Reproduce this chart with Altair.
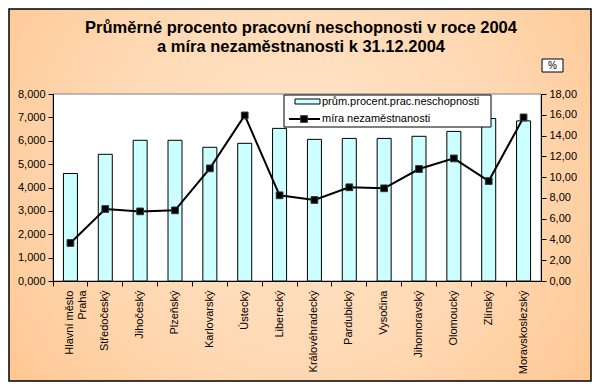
import altair as alt
import pandas as pd

# ---- data ----
regions = ["Hlavní město Praha", "Středočeský", "Jihočeský", "Plzeňský", "Karlovarský",
           "Ústecký", "Liberecký", "Královéhradecký", "Pardubický", "Vysočina",
           "Jihomoravský", "Olomoucký", "Zlínský", "Moravskoslezský"]
sick_leave = [4.60, 5.42, 6.02, 6.02, 5.72, 5.89, 6.53, 6.06, 6.10, 6.10, 6.19, 6.40, 6.95, 6.85]
unemployment = [3.66, 6.93, 6.70, 6.80, 10.84, 15.94, 8.25, 7.80, 9.02, 8.92, 10.78, 11.80, 9.62, 15.75]
title_lines = ["Průměrné procento pracovní neschopnosti v roce 2004",
               "a míra nezaměstnanosti k 31.12.2004"]
legend_labels = ["prům.procent.prac.neschopnosti", "míra nezaměstnanosti"]
left_ticks = [0, 1, 2, 3, 4, 5, 6, 7, 8]
right_ticks = [0, 2, 4, 6, 8, 10, 12, 14, 16, 18]
unit_label = "%"

# ---- layout ----
W, H = 488, 187
PL, PT, PR, PB = 45, 86, 51, 101
FONT = "Liberation Sans"

df = pd.DataFrame({"kraj": regions, "pn": sick_leave, "nez": unemployment})
one = alt.Data(values=[{"a": 1}])

grad = {"gradient": "radial", "x1": 0.5, "y1": 0.45, "r1": 0.0, "x2": 0.5, "y2": 0.45, "r2": 0.72,
        "stops": [{"offset": 0, "color": "#FFE6CC"}, {"offset": 0.5, "color": "#FFD8B2"},
                  {"offset": 1, "color": "#FFC187"}]}

bg = alt.Chart(one).mark_rect(fill=grad, stroke="black", strokeWidth=1.5).encode(
    x=alt.value(-PL + 1), x2=alt.value(W + PR - 1), y=alt.value(-PT + 1), y2=alt.value(H + PB - 1))
plotbg = alt.Chart(one).mark_rect(fill="white", stroke="#808080", strokeWidth=1).encode(
    x=alt.value(0), x2=alt.value(W), y=alt.value(0), y2=alt.value(H))

xenc = alt.X("kraj:N", sort=regions,
             scale=alt.Scale(paddingInner=0, paddingOuter=0),
             axis=alt.Axis(title=None, labelAngle=-90, labelAlign="right", labelBaseline="middle",
                           labelFont=FONT, labelFontSize=11, labelColor="black", labelPadding=4,
                           bandPosition=0, tickSize=5, tickColor="black",
                           domainColor="black", labelLimit=0, zindex=1,
                           labelExpr="datum.label == 'Hlavní město Praha' ? ['Hlavní město', 'Praha'] : datum.label"))

bars = alt.Chart(df).mark_bar(size=14, fill="#CCFFFF", stroke="black", strokeWidth=1).encode(
    x=xenc,
    y=alt.Y("pn:Q", scale=alt.Scale(domain=[0, 8], nice=False),
            axis=alt.Axis(title=None, orient="left", values=left_ticks, format=".3f",
                          labelExpr="replace(datum.label, '.', ',')", grid=False,
                          tickSize=5, tickColor="black", domainColor="black",
                          labelFont=FONT, labelFontSize=11, labelColor="black", labelPadding=3,
                          zindex=1)))

line = alt.Chart(df).mark_line(
    color="black", strokeWidth=2,
    point=alt.OverlayMarkDef(shape="square", size=45, filled=True, fill="black",
                             stroke="#333333", strokeWidth=1)).encode(
    x=xenc,
    y=alt.Y("nez:Q", scale=alt.Scale(domain=[0, 18], nice=False),
            axis=alt.Axis(title=None, orient="right", values=right_ticks, format=".2f",
                          labelExpr="replace(datum.label, '.', ',')", grid=False,
                          tickSize=5, tickColor="black", domainColor="black",
                          labelFont=FONT, labelFontSize=11, labelColor="black", labelPadding=3,
                          zindex=1)))

# ---- legend ----
LX0, LX1, LY0, LY1 = 231, 438, 1, 33
legend_box = alt.Chart(one).mark_rect(fill="white", stroke="black", strokeWidth=1).encode(
    x=alt.value(LX0), x2=alt.value(LX1), y=alt.value(LY0), y2=alt.value(LY1))
leg_swatch = alt.Chart(one).mark_rect(fill="#CCFFFF", stroke="black", strokeWidth=1).encode(
    x=alt.value(242), x2=alt.value(267), y=alt.value(5), y2=alt.value(10))
leg_line = alt.Chart(one).mark_rule(color="black", strokeWidth=2).encode(
    x=alt.value(236), x2=alt.value(267), y=alt.value(25))
leg_sq = alt.Chart(one).mark_point(shape="square", size=45, filled=True, fill="black",
                                   stroke="#333333", strokeWidth=1, opacity=1).encode(
    x=alt.value(251), y=alt.value(25))
leg_t1 = alt.Chart(one).mark_text(text=legend_labels[0], align="left", baseline="middle",
                                  font=FONT, fontSize=11, color="black").encode(
    x=alt.value(269), y=alt.value(8))
leg_t2 = alt.Chart(one).mark_text(text=legend_labels[1], align="left", baseline="middle",
                                  font=FONT, fontSize=11, color="black").encode(
    x=alt.value(269), y=alt.value(25))

# ---- % box ----
pct_box = alt.Chart(one).mark_rect(fill="white", stroke="black", strokeWidth=1).encode(
    x=alt.value(489), x2=alt.value(510), y=alt.value(-35), y2=alt.value(-22))
pct_text = alt.Chart(one).mark_text(text=unit_label, align="center", baseline="middle",
                                    font=FONT, fontSize=10, color="black").encode(
    x=alt.value(499.5), y=alt.value(-28.5))

# ---- title ----
t1 = alt.Chart(one).mark_text(text=title_lines[0], align="center", baseline="middle",
                              font=FONT, fontSize=16.5, fontWeight="bold", color="black").encode(
    x=alt.value(248), y=alt.value(-66))
t2 = alt.Chart(one).mark_text(text=title_lines[1], align="center", baseline="middle",
                              font=FONT, fontSize=16.5, fontWeight="bold", color="black").encode(
    x=alt.value(248), y=alt.value(-47))

chart = alt.layer(bg, plotbg, bars, line, legend_box, leg_swatch, leg_line, leg_sq, leg_t1, leg_t2,
                  pct_box, pct_text, t1, t2).resolve_scale(y="independent").properties(
    width=W, height=H, padding={"left": PL, "top": PT, "right": PR, "bottom": PB},
    autosize="none").configure_view(stroke=None).configure(background="white", font=FONT)

chart.save("out.html", embed_options={"renderer": "svg", "actions": False})
